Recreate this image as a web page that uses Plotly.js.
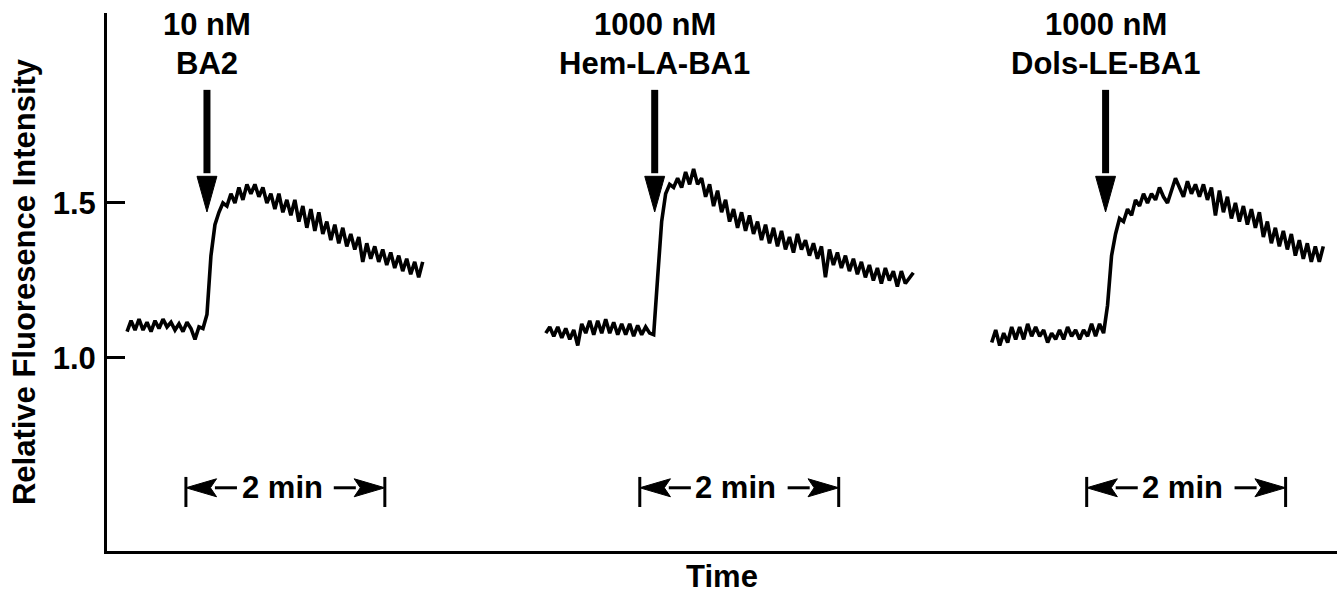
<!DOCTYPE html>
<html>
<head>
<meta charset="utf-8">
<script src="https://cdn.plot.ly/plotly-3.0.1.min.js"></script>
<style>html,body{margin:0;padding:0;background:#fff;}#chart{width:1337px;height:595px;}</style>
</head>
<body>
<div id="chart"></div>
<script>
// ---- data (time in seconds, relative fluorescence intensity) ----
const sampleInterval = 2.41;            // s between recorded points
const traceStart = [12.1, 264.7, 533.7]; // s, start of each recording
const injectionTime = [60.3, 330.4, 602.4];
const doseLabels = ['10 nM', '1000 nM', '1000 nM'];
const compoundLabels = ['BA2', 'Hem-LA-BA1', 'Dols-LE-BA1'];
const scaleBarStart = [47.6, 321.4, 591.0];
const scaleBarLength = 120; // 2 min
const scaleBarLabel = '2 min';

const ba2 = [
  1.085,1.12,1.09,1.125,1.09,1.115,1.085,1.12,1.095,1.125,
  1.10,1.115,1.09,1.11,1.085,1.115,1.095,1.06,1.10,1.095,
  1.14,1.33,1.43,1.47,1.50,1.49,1.53,1.50,1.55,1.51,
  1.56,1.53,1.56,1.52,1.55,1.50,1.53,1.48,1.53,1.47,
  1.51,1.46,1.51,1.44,1.49,1.42,1.48,1.41,1.47,1.40,
  1.44,1.38,1.43,1.37,1.42,1.36,1.40,1.35,1.39,1.31,
  1.37,1.32,1.36,1.31,1.35,1.30,1.34,1.29,1.33,1.28,
  1.32,1.27,1.31,1.26,1.31
];
const hemLABA1 = [
  1.08,1.10,1.07,1.10,1.065,1.095,1.06,1.09,1.04,1.11,
  1.08,1.12,1.075,1.12,1.08,1.125,1.08,1.115,1.075,1.11,
  1.075,1.11,1.07,1.105,1.075,1.10,1.08,1.075,1.26,1.44,
  1.53,1.56,1.55,1.58,1.55,1.60,1.56,1.61,1.56,1.58,
  1.52,1.56,1.49,1.54,1.47,1.51,1.44,1.48,1.42,1.47,
  1.41,1.46,1.40,1.44,1.38,1.43,1.37,1.42,1.36,1.41,
  1.35,1.39,1.34,1.40,1.35,1.38,1.33,1.37,1.32,1.36,
  1.26,1.35,1.30,1.34,1.29,1.33,1.28,1.32,1.27,1.31,
  1.26,1.30,1.25,1.29,1.24,1.29,1.25,1.28,1.23,1.28,
  1.24,1.26,1.275
];
const dolsLEBA1 = [
  1.05,1.09,1.04,1.08,1.05,1.10,1.06,1.10,1.06,1.11,
  1.07,1.10,1.07,1.09,1.05,1.08,1.06,1.09,1.06,1.10,
  1.07,1.09,1.06,1.09,1.07,1.11,1.07,1.11,1.08,1.17,
  1.33,1.40,1.45,1.44,1.48,1.46,1.51,1.49,1.53,1.50,
  1.53,1.51,1.55,1.52,1.50,1.54,1.58,1.55,1.52,1.57,
  1.53,1.56,1.52,1.56,1.51,1.55,1.46,1.54,1.47,1.52,
  1.45,1.50,1.44,1.49,1.43,1.48,1.42,1.47,1.39,1.44,
  1.37,1.42,1.36,1.41,1.35,1.40,1.33,1.38,1.32,1.37,
  1.31,1.36,1.31,1.36
];
const series = [ba2, hemLABA1, dolsLEBA1];
const yTicks = [1.0, 1.5];

// ---- style ----
const FONT = {family: 'Liberation Sans, Arial, Helvetica, sans-serif', size: 31, color: '#000', weight: 'bold'};

const traces = series.map((ys, i) => ({
  type: 'scatter', mode: 'lines',
  y: ys, x0: traceStart[i], dx: sampleInterval,
  line: {color: '#000', width: 3.6}, hoverinfo: 'skip', showlegend: false
}));

const shapes = [];
const annotations = [];
const arrowTop = 1.865, headBase = 1.586, headTip = 1.471, headHalf = 6.0;
injectionTime.forEach((t, i) => {
  shapes.push({type: 'line', xref: 'x', yref: 'y', x0: t, x1: t, y0: arrowTop, y1: headBase + 0.01,
    line: {color: '#000', width: 7}});
  shapes.push({type: 'path', xref: 'x', yref: 'y',
    path: `M ${t - headHalf} ${headBase} L ${t + headHalf} ${headBase} L ${t} ${headTip} Z`,
    fillcolor: '#000', line: {color: '#000', width: 1}});
  annotations.push({x: t, y: 2.077, xref: 'x', yref: 'y', text: doseLabels[i], showarrow: false,
    xanchor: 'center', yanchor: 'middle', font: FONT});
  annotations.push({x: t, y: 1.950, xref: 'x', yref: 'y', text: compoundLabels[i], showarrow: false,
    xanchor: 'center', yanchor: 'middle', font: FONT});
});

const barY = 0.581, tickTop = 0.616, tickBot = 0.519, shaft = 30.8, head = 18.5, hh = 0.029;
scaleBarStart.forEach((L) => {
  const R = L + scaleBarLength;
  [L, R].forEach(x => shapes.push({type: 'line', xref: 'x', yref: 'y', x0: x, x1: x, y0: tickBot, y1: tickTop,
    line: {color: '#000', width: 3}}));
  shapes.push({type: 'line', xref: 'x', yref: 'y', x0: L + head - 1, x1: L + shaft, y0: barY, y1: barY, line: {color: '#000', width: 3}});
  shapes.push({type: 'line', xref: 'x', yref: 'y', x0: R - shaft, x1: R - head + 1, y0: barY, y1: barY, line: {color: '#000', width: 3}});
  shapes.push({type: 'path', xref: 'x', yref: 'y',
    path: `M ${L} ${barY} L ${L + head} ${barY + hh} L ${L + head * 0.8} ${barY} L ${L + head} ${barY - hh} Z`,
    fillcolor: '#000', line: {color: '#000', width: 1}});
  shapes.push({type: 'path', xref: 'x', yref: 'y',
    path: `M ${R} ${barY} L ${R - head} ${barY + hh} L ${R - head * 0.8} ${barY} L ${R - head} ${barY - hh} Z`,
    fillcolor: '#000', line: {color: '#000', width: 1}});
  annotations.push({x: (L + R) / 2 - 2, y: barY, xref: 'x', yref: 'y', text: scaleBarLabel, showarrow: false,
    xanchor: 'center', yanchor: 'middle', font: FONT});
});

const layout = {
  width: 1337, height: 595,
  margin: {l: 107, r: 0, t: 13, b: 44},
  paper_bgcolor: '#fff', plot_bgcolor: '#fff',
  font: FONT,
  showlegend: false,
  xaxis: {
    range: [0, 742], showgrid: false, zeroline: false, showticklabels: false, ticks: '',
    showline: true, linecolor: '#000', linewidth: 3,
    title: {text: 'Time', font: FONT, standoff: 13}
  },
  yaxis: {
    range: [0.377, 2.113], showgrid: false, zeroline: false,
    tickvals: yTicks, ticktext: yTicks.map(v => v.toFixed(1)),
    ticks: 'inside', ticklen: 18, tickwidth: 3, tickcolor: '#000',
    ticklabelstandoff: 2,
    showline: true, linecolor: '#000', linewidth: 3,
    tickfont: FONT,
    title: {text: 'Relative Fluoresence Intensity', font: FONT, standoff: 8}
  },
  shapes: shapes,
  annotations: annotations
};

Plotly.newPlot('chart', traces, layout, {staticPlot: true, displayModeBar: false});
</script>
</body>
</html>
